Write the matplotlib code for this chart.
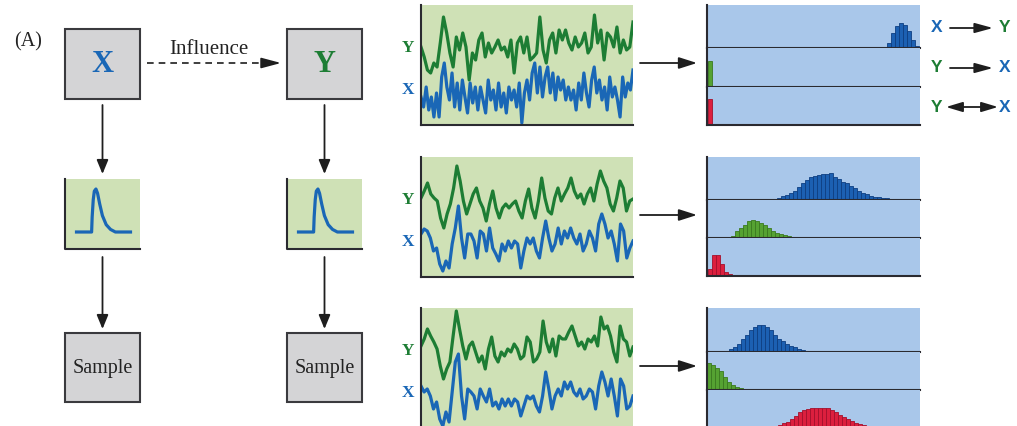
import numpy as np
import matplotlib
matplotlib.use("Agg")
import matplotlib.pyplot as plt
from matplotlib.patches import Rectangle

W, H = 1017, 426

# --- data ---
# time series: height above panel floor (px), Y = green, X = blue
ts1_y = [78, 68, 55, 52, 62, 58, 82, 108, 92, 72, 58, 88, 75, 92, 78, 45, 72, 65, 85, 92, 68, 82,
         72, 78, 85, 75, 78, 68, 85, 52, 82, 88, 72, 88, 65, 68, 72, 108, 75, 62, 85, 92, 72, 95,
         85, 95, 82, 75, 88, 78, 82, 92, 72, 78, 110, 82, 95, 65, 92, 88, 78, 98, 72, 85, 75, 78, 103]
ts1_x = [28, 18, 38, 15, 28, 8, 32, 8, 48, 62, 38, 25, 52, 18, 42, 15, 45, 28, 12, 42, 22, 38, 15,
         38, 25, 12, 45, 25, 35, 15, 42, 18, 32, 12, 38, 25, 35, 18, 42, 2, 32, 45, 25, 52, 62, 32,
         58, 28, 48, 58, 32, 52, 25, 48, 35, 45, 25, 38, 25, 35, 15, 42, 25, 52, 32, 18, 45, 58, 32,
         45, 25, 38, 15, 48, 28, 38, 25, 8, 48, 28, 42, 35, 55]
ts2_y = [79, 86, 94, 83, 79, 76, 59, 49, 63, 73, 89, 111, 96, 76, 63, 73, 83, 89, 76, 69, 56, 73,
         86, 69, 59, 69, 73, 69, 73, 76, 66, 59, 76, 88, 69, 59, 76, 99, 79, 66, 63, 79, 89, 76, 83,
         89, 99, 86, 79, 83, 73, 83, 89, 76, 93, 106, 96, 89, 73, 66, 79, 96, 89, 66, 76, 78]
ts2_x = [43, 48, 46, 39, 26, 29, 13, 6, 16, 9, 33, 49, 71, 39, 19, 43, 43, 36, 19, 46, 43, 26, 49,
         29, 23, 16, 33, 26, 36, 29, 36, 33, 9, 26, 39, 33, 39, 26, 19, 39, 56, 39, 26, 33, 49, 33,
         46, 39, 49, 39, 33, 43, 26, 33, 46, 39, 26, 53, 63, 53, 39, 46, 33, 16, 53, 46, 19, 29, 36]
ts3_y = [82, 89, 99, 92, 86, 79, 62, 49, 59, 66, 92, 117, 99, 82, 69, 82, 86, 76, 66, 72, 59, 79,
         91, 72, 66, 76, 72, 79, 76, 84, 79, 69, 72, 91, 86, 66, 69, 76, 107, 86, 76, 89, 72, 92, 89,
         89, 96, 102, 92, 82, 86, 79, 89, 86, 92, 82, 111, 99, 102, 92, 76, 66, 102, 89, 86, 72, 81]
ts3_x = [42, 36, 39, 32, 19, 26, 9, 2, 16, 6, 36, 66, 74, 32, 9, 39, 36, 32, 19, 39, 32, 26, 39,
         22, 26, 19, 29, 22, 29, 22, 29, 26, 12, 22, 32, 29, 32, 22, 16, 32, 56, 39, 19, 32, 39, 32,
         46, 39, 46, 36, 32, 39, 29, 32, 39, 36, 19, 42, 56, 46, 32, 49, 32, 12, 49, 42, 19, 22, 32]

# histograms: first bin and bar heights (px) for X->Y, Y->X, Y<->X
h1_xy_start, h1_xy = 45, [5, 15, 22, 25, 23, 17, 8, 2]
h1_yx_start, h1_yx = 0.2, [26]
h1_bi_start, h1_bi = 0.2, [26]
h2_xy_start, h2_xy = 17.6, [2, 4, 5, 7, 9, 13, 17, 20, 23, 24, 25, 26, 26, 27, 23, 21, 18, 17, 14,
                            12, 9, 7, 6, 4, 3, 3, 2, 2, 1]
h2_yx_start, h2_yx = 4.9, [1, 2, 7, 10, 13, 17, 18, 17, 15, 13, 10, 7, 5, 4, 3, 2, 1]
h2_bi_start, h2_bi = 0.3, [7, 21, 21, 12, 4, 2]
h3_xy_start, h3_xy = 4.5, [1, 3, 5, 8, 13, 17, 22, 25, 27, 27, 25, 22, 17, 13, 11, 8, 6, 5, 3, 2]
h3_yx_start, h3_yx = 0, [27, 25, 22, 19, 13, 8, 5, 3, 2]
h3_bi_start, h3_bi = 17.8, [3, 5, 6, 9, 12, 16, 18, 19, 20, 20, 20, 20, 20, 18, 16, 13, 11, 9, 7,
                            5, 4, 3, 2, 1]

# pulse icon
pulse_t = [0, 0.28, 0.29, 0.31, 0.33, 0.36, 0.39, 0.43, 0.48, 0.55, 0.63, 0.72, 1.0]
pulse_v = [0, 0, 0.35, 0.75, 0.95, 1.0, 0.9, 0.65, 0.38, 0.17, 0.06, 0.0, 0]

# --- styles ---
X_COL = "#1a67b6"
Y_COL = "#1d7d34"
GREEN_BG = "#cfe1b6"
BLUE_BG = "#a9c7ea"
GRAY_BOX = "#d4d4d6"
EDGE = "#3a3a3e"
SERIF = ["Liberation Serif", "DejaVu Serif"]
SANS = ["Liberation Sans", "DejaVu Sans"]

fig = plt.figure(figsize=(W / 100, H / 100), dpi=100)
fig.patch.set_facecolor("white")

bg = fig.add_axes([0, 0, 1, 1])
bg.set_xlim(0, W)
bg.set_ylim(H, 0)
bg.axis("off")


def px_axes(x0, y0, x1, y1):
    return fig.add_axes([x0 / W, 1 - y1 / H, (x1 - x0) / W, (y1 - y0) / H])


def arrow(x0, y0, x1, y1, hl=0.85, hw=0.35, style="-|>", lw=1.3):
    bg.annotate("", xy=(x1, y1), xytext=(x0, y0),
                arrowprops=dict(arrowstyle=f"{style},head_length={hl},head_width={hw}",
                                color="#1e1e1e", lw=lw, shrinkA=0, shrinkB=0))


def frame_spines(ax):
    for s in ["top", "right"]:
        ax.spines[s].set_visible(False)
    for s in ["left", "bottom"]:
        ax.spines[s].set_color("#2a2a30")
        ax.spines[s].set_linewidth(1.5)
    ax.set_xticks([])
    ax.set_yticks([])


# --- left diagram ---
bg.text(28, 42, "(A)", family=SERIF, fontsize=14.5, ha="center", va="center", color="#222")
for cx, lab, col in [(102.5, "X", X_COL), (324.5, "Y", Y_COL)]:
    bg.add_patch(Rectangle((cx - 37.5, 29), 75, 70, facecolor=GRAY_BOX, edgecolor=EDGE, lw=1.5))
    bg.text(cx, 65, lab, family=SERIF, fontsize=22, fontweight="bold", color=col,
            ha="center", va="center")
    arrow(cx, 105, cx, 174)
    # pulse box
    bg.add_patch(Rectangle((cx - 37.5, 179), 75, 70, facecolor=GREEN_BG, edgecolor="none"))
    bg.plot([cx - 37.5, cx - 37.5, cx + 37.5], [179, 249, 249], color="#2a2a30", lw=1.5)
    pax = px_axes(cx - 26, 189, cx + 28, 232)
    pax.plot(pulse_t, pulse_v, color=X_COL, lw=2.3, clip_on=False)
    pax.set_xlim(0, 1)
    pax.set_ylim(0, 1)
    pax.axis("off")
    arrow(cx, 257, cx, 329)
    bg.add_patch(Rectangle((cx - 37.5, 333), 75, 69, facecolor=GRAY_BOX, edgecolor=EDGE, lw=1.5))
    bg.text(cx, 368, "Sample", family=SERIF, fontsize=14.5, color="#222", ha="center", va="center")

bg.text(209, 49, "Influence", family=SERIF, fontsize=15, color="#222", ha="center", va="center")
bg.plot([147, 266], [63, 63], color="#1e1e1e", lw=1.2, ls=(0, (4, 3)))
arrow(264, 63, 281, 63, hl=1.2, hw=0.32, lw=1.2)

# --- time series panels ---
series = [(ts1_y, ts1_x, 5), (ts2_y, ts2_x, 157), (ts3_y, ts3_x, 308)]
for yv, xv, top in series:
    ax = px_axes(421, top, 633, top + 120)
    ax.set_facecolor(GREEN_BG)
    ax.plot(np.linspace(0, 1, len(yv)), yv, color=Y_COL, lw=2.3)
    ax.plot(np.linspace(0, 1, len(xv)), xv, color=X_COL, lw=2.3)
    ax.set_xlim(0, 1)
    ax.set_ylim(0, 120)
    frame_spines(ax)
    bg.text(408, top + 43, "Y", family=SERIF, fontsize=12.5, fontweight="bold", color=Y_COL,
            ha="center", va="center")
    bg.text(408, top + 85, "X", family=SERIF, fontsize=12.5, fontweight="bold", color=X_COL,
            ha="center", va="center")
    arrow(640, top + 58, 697, top + 58, hl=1.1, hw=0.35)

# --- histogram panels ---
hist_panels = [
    (5, [48, 87, 125], [(h1_xy_start, h1_xy), (h1_yx_start, h1_yx), (h1_bi_start, h1_bi)]),
    (157, [200, 238, 276], [(h2_xy_start, h2_xy), (h2_yx_start, h2_yx), (h2_bi_start, h2_bi)]),
    (308, [352, 390, 428], [(h3_xy_start, h3_xy), (h3_yx_start, h3_yx), (h3_bi_start, h3_bi)]),
]
bar_cols = [("#1c60b2", "#0e3f82"), ("#55a232", "#3a7a20"), ("#dc1f3e", "#a3102c")]
for top, bottoms, rows in hist_panels:
    prev = top
    for (start, counts), bot, (fc, ec) in zip(rows, bottoms, bar_cols):
        ax = px_axes(707, prev, 920, bot)
        ax.set_facecolor(BLUE_BG)
        ax.bar(start + np.arange(len(counts)), counts, width=1, align="edge",
               color=fc, edgecolor=ec, lw=0.6)
        ax.set_xlim(0, 53.25)
        ax.set_ylim(0, bot - prev)
        frame_spines(ax)
        prev = bot

# --- legend on the right ---
legend_rows = [(28, "X", X_COL, "Y", Y_COL, "-|>"),
               (68, "Y", Y_COL, "X", X_COL, "-|>"),
               (107, "Y", Y_COL, "X", X_COL, "<|-|>")]
for y, a, ca, b, cb, st in legend_rows:
    bg.text(937, y, a, family=SANS, fontsize=12.5, fontweight="bold", color=ca,
            ha="center", va="center")
    bg.text(1005, y, b, family=SANS, fontsize=12.5, fontweight="bold", color=cb,
            ha="center", va="center")
    if st == "-|>":
        arrow(950, y, 993, y, hl=1.1, hw=0.3, lw=1.3)
    else:
        arrow(946, y, 998, y, hl=1.0, hw=0.3, style=st, lw=1.3)

fig.savefig("out.png", dpi=100, facecolor="white")
